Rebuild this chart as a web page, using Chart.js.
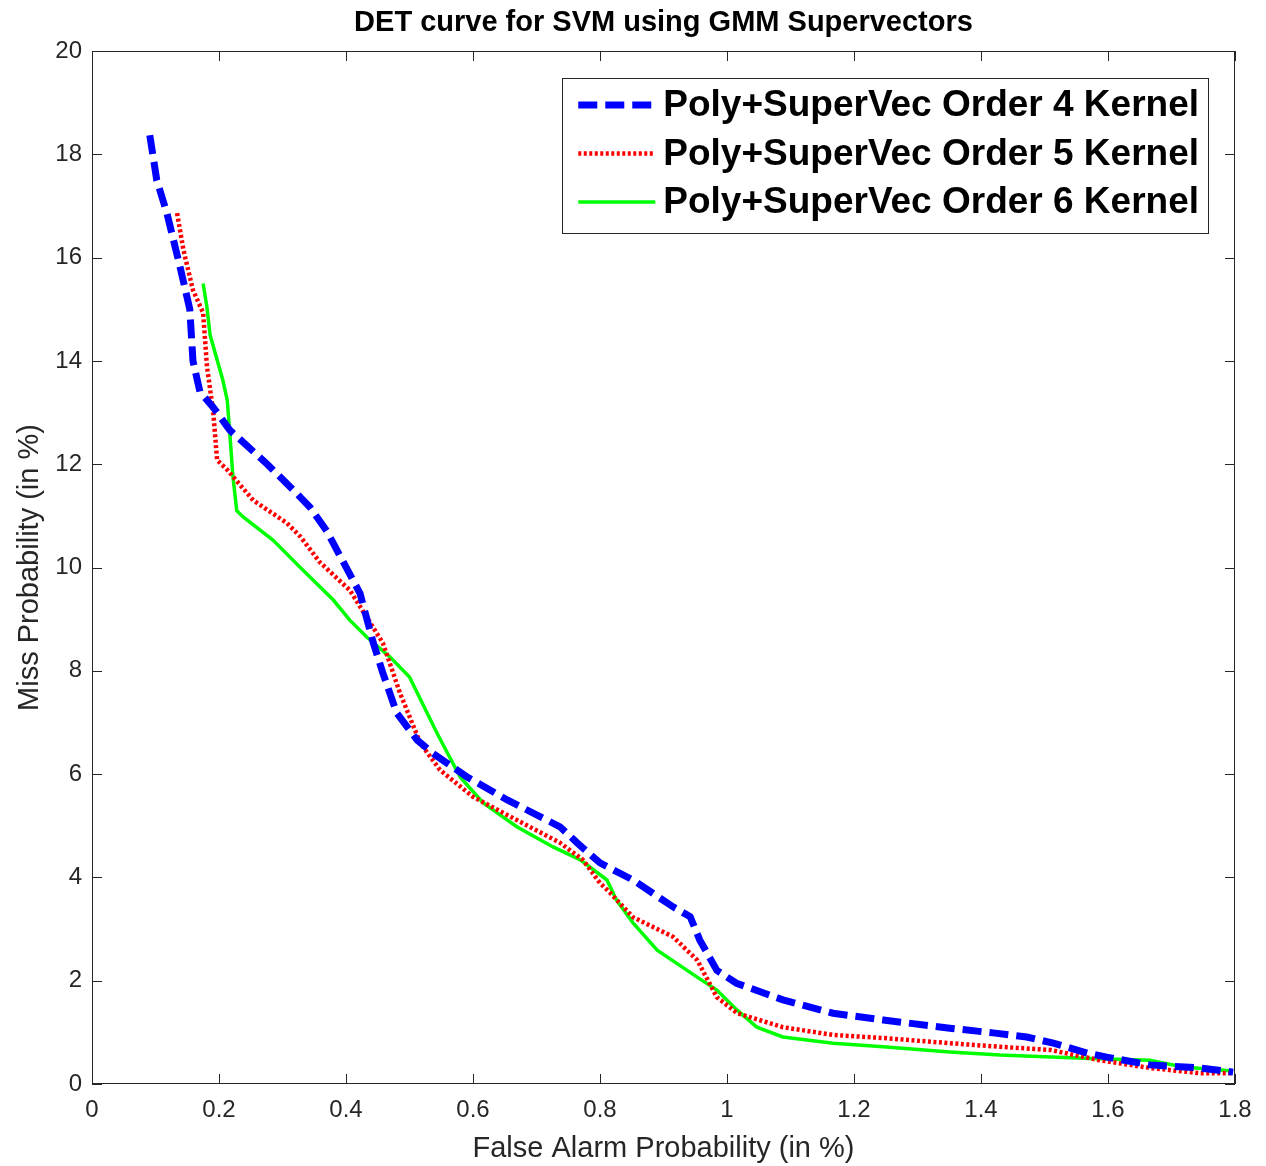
<!DOCTYPE html>
<html>
<head>
<meta charset="utf-8">
<title>DET curve</title>
<script src="https://cdn.jsdelivr.net/npm/chart.js@4/dist/chart.umd.min.js"></script>
<style>
  body { margin: 0; background: #fff; }
  #wrap { width: 1266px; height: 1166px; }
</style>
</head>
<body>
<div id="wrap"><canvas id="myChart" width="1266" height="1166"></canvas></div>
<script>
'use strict';

// data (x = false alarm %, y = miss %)
const order4X = [0.091, 0.102, 0.118, 0.139, 0.154, 0.159, 0.170, 0.191, 0.217, 0.276, 0.317, 0.343, 0.370, 0.422, 0.443, 0.458, 0.480, 0.512, 0.537, 0.590, 0.654, 0.737, 0.764, 0.800, 0.852, 0.915, 0.942, 0.957, 0.984, 1.015, 1.088, 1.167, 1.246, 1.351, 1.419, 1.472, 1.514, 1.567, 1.598, 1.666, 1.745, 1.797];
const order4Y = [18.37, 17.5, 16.86, 15.8, 15.0, 14.0, 13.4, 13.1, 12.66, 12.0, 11.5, 11.17, 10.7, 9.5, 8.54, 7.96, 7.18, 6.66, 6.4, 5.95, 5.5, 4.98, 4.67, 4.28, 3.95, 3.43, 3.24, 2.79, 2.2, 1.95, 1.63, 1.37, 1.24, 1.08, 0.99, 0.91, 0.79, 0.6, 0.52, 0.37, 0.31, 0.23];

const order5X = [0.134, 0.144, 0.159, 0.175, 0.181, 0.191, 0.197, 0.213, 0.254, 0.307, 0.328, 0.359, 0.406, 0.458, 0.485, 0.517, 0.548, 0.600, 0.669, 0.737, 0.773, 0.800, 0.816, 0.852, 0.915, 0.953, 0.984, 1.016, 1.088, 1.167, 1.246, 1.351, 1.430, 1.509, 1.587, 1.666, 1.745, 1.797];
const order5Y = [16.86, 16.15, 15.37, 14.93, 13.9, 13.0, 12.08, 11.89, 11.3, 10.86, 10.6, 10.1, 9.56, 8.54, 7.57, 6.6, 6.08, 5.56, 5.11, 4.67, 4.34, 3.89, 3.7, 3.23, 2.85, 2.4, 1.68, 1.37, 1.1, 0.95, 0.89, 0.79, 0.72, 0.66, 0.46, 0.31, 0.21, 0.21];

const order6X = [0.175, 0.181, 0.186, 0.206, 0.213, 0.217, 0.222, 0.228, 0.238, 0.285, 0.328, 0.380, 0.406, 0.433, 0.469, 0.500, 0.543, 0.580, 0.616, 0.669, 0.726, 0.769, 0.811, 0.826, 0.852, 0.890, 0.953, 0.984, 1.016, 1.047, 1.088, 1.167, 1.246, 1.351, 1.430, 1.561, 1.666, 1.718, 1.797];
const order6Y = [15.5, 15.04, 14.5, 13.63, 13.24, 12.6, 11.75, 11.1, 10.98, 10.53, 10.0, 9.37, 8.98, 8.65, 8.27, 7.88, 6.8, 5.94, 5.44, 4.98, 4.59, 4.34, 3.95, 3.56, 3.12, 2.59, 2.07, 1.82, 1.43, 1.1, 0.91, 0.79, 0.72, 0.62, 0.56, 0.5, 0.46, 0.33, 0.25];

const seriesNames = ['Poly+SuperVec Order 4 Kernel', 'Poly+SuperVec Order 5 Kernel', 'Poly+SuperVec Order 6 Kernel'];
const xTicks = [0, 0.2, 0.4, 0.6, 0.8, 1, 1.2, 1.4, 1.6, 1.8];
const yTicks = [0, 2, 4, 6, 8, 10, 12, 14, 16, 18, 20];

const FONT = '"Liberation Sans", Arial, Helvetica, sans-serif';
const AXIS_COLOR = '#262626';

function toPoints(xs, ys) {
    const pts = [];
    for (let i = 0; i < xs.length; i++) {
        pts.push({ x: xs[i], y: ys[i] });
    }
    return pts;
}

// box round the plot with inward ticks on all four sides
const boxPlugin = {
    id: 'boxTicks',
    afterDraw(chart) {
        const ctx = chart.ctx;
        const a = chart.chartArea;
        const xs = chart.scales.x;
        const ys = chart.scales.y;
        const len = 10;
        ctx.save();
        ctx.strokeStyle = AXIS_COLOR;
        ctx.lineWidth = 1;
        ctx.strokeRect(a.left + 0.5, a.top + 0.5, a.right - a.left - 1, a.bottom - a.top - 1);
        ctx.beginPath();
        for (let i = 0; i < xTicks.length; i++) {
            const px = Math.round(xs.getPixelForValue(xTicks[i])) + 0.5;
            ctx.moveTo(px, a.bottom);
            ctx.lineTo(px, a.bottom - len);
            ctx.moveTo(px, a.top);
            ctx.lineTo(px, a.top + len);
        }
        for (let i = 0; i < yTicks.length; i++) {
            const py = Math.round(ys.getPixelForValue(yTicks[i])) + 0.5;
            ctx.moveTo(a.left, py);
            ctx.lineTo(a.left + len, py);
            ctx.moveTo(a.right, py);
            ctx.lineTo(a.right - len, py);
        }
        ctx.stroke();
        ctx.restore();
    }
};

// legend box in the upper right corner of the plot
const legendPlugin = {
    id: 'boxLegend',
    afterDraw(chart) {
        const ctx = chart.ctx;
        const a = chart.chartArea;
        ctx.save();
        ctx.font = 'bold 37px ' + FONT;
        let maxW = 0;
        for (let i = 0; i < seriesNames.length; i++) {
            maxW = Math.max(maxW, ctx.measureText(seriesNames[i]).width);
        }
        const w = 101 + maxW + 9;
        const h = 155;
        const right = a.right - 27;
        const left = right - w;
        const top = a.top + 27;
        ctx.fillStyle = '#fff';
        ctx.fillRect(left, top, w, h);
        ctx.strokeStyle = AXIS_COLOR;
        ctx.lineWidth = 1;
        ctx.strokeRect(Math.round(left) + 0.5, top + 0.5, Math.round(w), h);

        const sets = chart.data.datasets;
        for (let i = 0; i < sets.length; i++) {
            const yy = top + 27 + i * 48.5;
            ctx.beginPath();
            ctx.strokeStyle = sets[i].borderColor;
            ctx.lineWidth = sets[i].borderWidth;
            ctx.setLineDash(sets[i].borderDash || []);
            ctx.moveTo(left + 16, yy);
            ctx.lineTo(left + 93, yy);
            ctx.stroke();
            ctx.setLineDash([]);
            ctx.fillStyle = '#000';
            ctx.textBaseline = 'middle';
            ctx.textAlign = 'left';
            ctx.fillText(seriesNames[i], left + 101, yy + 1);
        }
        ctx.restore();
    }
};

const config = {
    type: 'line',
    data: {
        datasets: [{
            label: seriesNames[0],
            data: toPoints(order4X, order4Y),
            borderColor: '#0000ff',
            borderWidth: 7,
            borderDash: [19, 8],
            pointRadius: 0,
            tension: 0
        }, {
            label: seriesNames[1],
            data: toPoints(order5X, order5Y),
            borderColor: '#ff0000',
            borderWidth: 4.5,
            borderDash: [3, 2.5],
            pointRadius: 0,
            tension: 0
        }, {
            label: seriesNames[2],
            data: toPoints(order6X, order6Y),
            borderColor: '#00ff00',
            borderWidth: 3.5,
            pointRadius: 0,
            tension: 0
        }]
    },
    options: {
        responsive: false,
        animation: false,
        events: [],
        layout: { padding: { left: 0, right: 31, top: 0, bottom: 0 } },
        plugins: {
            legend: { display: false },
            tooltip: { enabled: false },
            title: {
                display: true,
                fullSize: false,
                text: 'DET curve for SVM using GMM Supervectors',
                color: '#000',
                font: { family: FONT, size: 29, weight: 'bold' },
                padding: { top: 6, bottom: 10.2 }
            }
        },
        scales: {
            x: {
                type: 'linear',
                min: 0,
                max: 1.8,
                afterFit(scale) { scale.height = 82; },
                afterBuildTicks(scale) { scale.ticks = xTicks.map(v => ({ value: v })); },
                grid: { display: false, drawTicks: false },
                border: { display: false },
                ticks: {
                    color: AXIS_COLOR,
                    font: { family: FONT, size: 24 },
                    padding: 12,
                    maxRotation: 0,
                    callback: v => String(v)
                },
                title: {
                    display: true,
                    text: 'False Alarm Probability (in %)',
                    color: AXIS_COLOR,
                    font: { family: FONT, size: 29 },
                    padding: { top: 0, bottom: 0 }
                }
            },
            y: {
                type: 'linear',
                min: 0,
                max: 20,
                afterFit(scale) { scale.width = 92; },
                afterBuildTicks(scale) { scale.ticks = yTicks.map(v => ({ value: v })); },
                grid: { display: false, drawTicks: false },
                border: { display: false },
                ticks: {
                    color: AXIS_COLOR,
                    font: { family: FONT, size: 24 },
                    padding: 10,
                    callback: v => String(v)
                },
                title: {
                    display: true,
                    text: 'Miss Probability (in %)',
                    color: AXIS_COLOR,
                    font: { family: FONT, size: 29 },
                    padding: { top: 13, bottom: 0 }
                }
            }
        }
    },
    plugins: [boxPlugin, legendPlugin]
};

const myChart = new Chart(document.getElementById('myChart'), config);
</script>
</body>
</html>
